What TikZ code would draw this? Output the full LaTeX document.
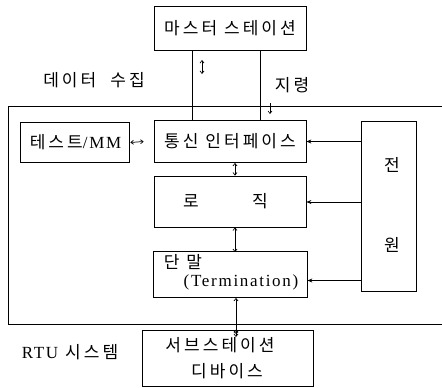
\documentclass[tikz,border=0pt]{standalone}
\usepackage{fontspec}
\newfontfamily\kr[LetterSpace=18]{Noto Sans CJK KR}
\newfontfamily\lat[LetterSpace=10]{Liberation Serif}
\usetikzlibrary{arrows.meta}
\begin{document}
\begin{tikzpicture}[x=1pt,y=-1pt,
  box/.style={draw, line width=0.8pt, inner sep=0pt, anchor=center},
  lbl/.style={inner sep=0pt, anchor=center, font=\fontsize{17}{19}\selectfont},
  ln/.style={line width=0.6pt},
  tip/.style={-{Stealth[length=5pt,width=4pt]}},
  dtip/.style={{Straight Barb[length=2.5pt,width=4pt]}-{Straight Barb[length=2.5pt,width=4pt]}, line width=0.7pt}]
\useasboundingbox (0,0) rectangle (442,388);
% boxes
\node[box, minimum width=152pt, minimum height=44pt] (master) at (230,28) {};
\node[box, minimum width=152pt, minimum height=42pt] (comm) at (230,141.5) {};
\node[box, minimum width=152pt, minimum height=51pt] (logic) at (230,201.5) {};
\node[box, minimum width=154pt, minimum height=46pt] (term) at (230,274.5) {};
\node[box, minimum width=171pt, minimum height=56pt] (sub) at (227.5,358) {};
\node[box, minimum width=109pt, minimum height=40pt] (test) at (74.5,142.5) {};
\node[box, minimum width=55pt, minimum height=170pt] (power) at (388.5,206) {};
% outer RTU frame
\coordinate (otr) at (442,106);
\coordinate (otl) at (8,106);
\coordinate (obl) at (8,324);
\coordinate (obr) at (442,324);
\draw[line width=1pt] (otr) -- (otl) -- (obl) -- (obr);
\coordinate (bm) at (236,324);
% texts
\node[lbl] (tmaster) at (master) {\kr 마스터 스테이션};
\node[lbl] (tcomm) at (comm) {\kr 통신 인터페이스};
\node[lbl] (tlogic1) at (191,201) {\kr 로};
\node[lbl] (tlogic2) at (260,201) {\kr 직};
\node[lbl] (tterm1) at (183,262) {\kr 단 말};
\node[lbl] (tterm2) at (241,282) {\lat (Termination)};
\node[lbl] (tsub1) at (220,345) {\kr 서브스테이션};
\node[lbl] (tsub2) at (227,371) {\kr 디바이스};
\node[lbl] (ttest) at (75.5,142) {{\kr 테스트}\lat /MM};
\node[lbl] (tp1) at (392,165) {\kr 전};
\node[lbl] (tp2) at (392,245) {\kr 원};
\node[lbl] (tdata) at (94,80) {\kr 데이터\hspace{14pt}수집};
\node[lbl] (tcmd) at (292,85) {\kr 지령};
\node[lbl] (trtu) at (70,352) {\lat RTU\hspace{7pt}\kr 시스템};
% master links
\draw[ln] ([xshift=-38pt]master.south) -- ([xshift=-38pt]comm.north);
\draw[ln] ([xshift=30pt]master.south) -- ([xshift=30pt]comm.north);
\coordinate (a1) at (202,60);
\coordinate (a2) at (202,74);
\draw[dtip] (a1) -- (a2);
\coordinate (c1) at (270,103);
\coordinate (c2) at (270,114);
\draw[ln, -{Straight Barb[length=2.5pt,width=4pt]}] (c1) -- (c2);
% internal links
\draw[dtip] ([xshift=1pt]test.east) -- ([xshift=-10pt]comm.west);
\draw[dtip] ([xshift=5pt]comm.south) -- ([xshift=5pt]logic.north);
\draw[dtip] ([xshift=5pt]logic.south) -- ([xshift=5pt,yshift=-1pt]term.north);
\draw[dtip] ([xshift=6pt]term.south) -- ([yshift=-13pt]bm);
\draw[dtip] ([yshift=-10pt]bm) -- ([xshift=8.5pt]sub.north);
% power links
\draw[ln, tip] (power.west |- comm.east) -- (comm.east);
\draw[ln, tip] ([yshift=-0.5pt]power.west |- logic.east) -- ([yshift=-0.5pt]logic.east);
\draw[line width=1.1pt, tip] ([yshift=-6pt]power.west |- term.east) -- ([yshift=-6pt]term.east);
\end{tikzpicture}
\end{document}
